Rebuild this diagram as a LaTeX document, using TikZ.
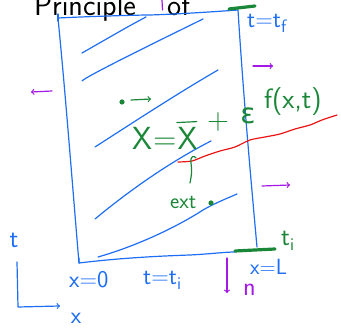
\documentclass[tikz,border=0pt]{standalone}
\usepackage{fontspec}
\usepackage{tikz}
\usetikzlibrary{arrows,calc}
\newfontfamily\greekhand{DejaVu Sans}
\definecolor{penblue}{RGB}{30,110,245}
\definecolor{pengreen}{RGB}{25,135,55}
\definecolor{penpurple}{RGB}{165,25,230}
\definecolor{penred}{RGB}{235,20,20}
\newcommand{\lowsub}[1]{\raisebox{-5pt}{\fontsize{18}{18}\selectfont #1}}

\begin{document}
\begin{tikzpicture}[x=1pt,y=-1pt,
    pen/.style={line width=1.2pt, line cap=round, line join=round},
    marker/.style={line width=3.2pt, line cap=round, pengreen},
    hand/.style={inner sep=0pt, font=\sffamily\fontsize{#1}{#1}\selectfont},
    hand/.default=22]
    \useasboundingbox (0,0) rectangle (341,328);
    \clip (0,0) rectangle (341,328);

    % Title, cut off at the top
    \node[hand=30, anchor=base west] (title) at (34,16) {Principle};
    \draw[pen, penpurple] (162,0) -- (162.5,10);
    \node[hand=30, anchor=base west] (titleend) at (167,16) {of};

    % Space-time box
    \draw[pen, penblue] (58,14) -- (58,21);
    \draw[pen, penblue] (58,18) .. controls (100,16) and (140,15) .. (150,15)
        .. controls (180,14) and (210,12) .. (238,10);
    \draw[pen, penblue] (58,18) .. controls (66,100) and (72,180) .. (79,263);
    \draw[pen, penblue] (238,10) .. controls (243,90) and (250,170) .. (257,247);
    \draw[pen, penblue] (79,258) -- (79,263) .. controls (120,258) and (160,256) .. (190,255)
        .. controls (210,254) and (225,252) .. (235,252);
    \draw[marker] (229,9) -- (255,6);
    \draw[marker] (235,251) -- (275,249);

    % Characteristic streaks
    \draw[pen, penblue] (82,53) .. controls (105,40) and (125,28) .. (146,17);
    \draw[pen, penblue] (82,81) .. controls (85,77) and (150,45) .. (203,19);
    \draw[pen, penblue] (95,147) .. controls (140,118) and (180,92) .. (218,70);
    \draw[pen, penblue] (95,219) .. controls (130,190) and (170,162) .. (211,141);
    \draw[pen, penblue] (98,257) .. controls (140,245) and (180,225) .. (203,210)
        .. controls (215,203) and (228,198) .. (237,194);

    % Boundary normals
    \draw[pen, penpurple, ->] (52,91) -- (31,92);
    \draw[pen, penpurple, ->] (253,66) -- (273,66);
    \draw[pen, penpurple, ->] (262,186) -- (290,185);
    \draw[pen, penpurple, ->] (227,258) -- (227,293);
    \node[hand=26, penpurple, anchor=base west] (nlab) at (243,296) {n};

    % Perturbed trajectory
    \fill[pengreen] (122,102) circle (2.6);
    \draw[pen, pengreen, ->] (131,100) -- (151,99);
    \node[hand=32, pengreen, anchor=base west] (xeq) at (132,150) {X\kern1pt=\kern1pt X};
    \draw[pen, pengreen] ($(xeq.north east)+(-21,-5)$) -- ($(xeq.north east)+(-1,-6)$);
    \node[hand=30, pengreen] (plus) at (218,122) {+};
    \node[hand=28, pengreen] (eps) at (248,116) {\greekhand ε};
    \node[hand=28, pengreen, anchor=base west] (fxt) at (264,109) {f(x,t)};
    \draw[pen, penred] plot[smooth] coordinates {(178,162) (192,161) (205,156) (220,151)
        (235,147) (250,140) (265,137) (280,134) (295,129) (310,125) (322,120) (337,115)};
    \draw[pen, pengreen] (190,183) .. controls (192,172) .. (191,163)
        .. controls (190,156) and (194,155) .. (196,158);
    \node[hand=22, pengreen, anchor=base west] (ext) at (170,209) {ext};
    \fill[pengreen] (211,203) circle (2.6);
    \node[hand=26, pengreen, anchor=base west] (tig) at (281,246) {t\lowsub{i}};

    % Boundary labels
    \node[hand=24, penblue, anchor=base west] (tf) at (247,28) {t=t\lowsub{f}};
    \node[hand=22, penblue, anchor=base west] (xl) at (250,275) {x=L};
    \node[hand=24, penblue, anchor=base west] (x0) at (69,288) {x=0};
    \node[hand=24, penblue, anchor=base west] (ti) at (143,285) {t=t\lowsub{i}};

    % Axes
    \draw[pen, penblue, ->] (17,262) -- (18,307) -- (60,306);
    \node[hand=26, penblue] (taxis) at (14,240) {t};
    \node[hand=24, penblue] (xaxis) at (76,318) {x};
\end{tikzpicture}
\end{document}
